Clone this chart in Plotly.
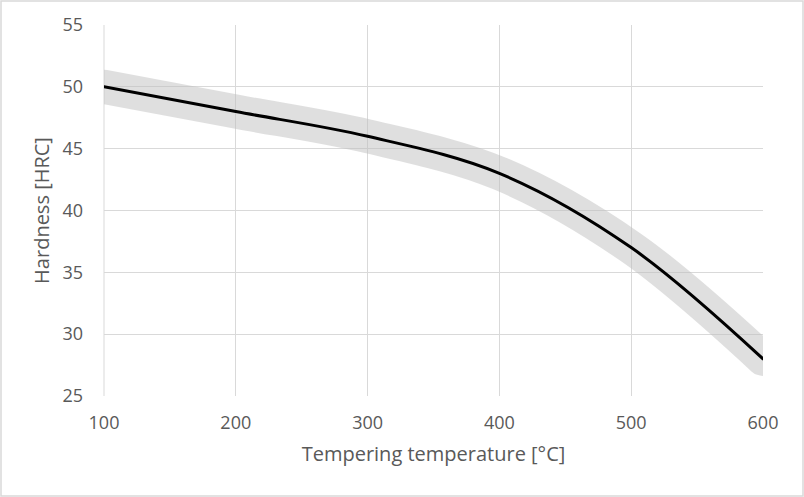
import plotly.graph_objects as go

# tempering curve
temperature = [100, 200, 300, 400, 500, 600]
hardness = [50, 48, 46, 43, 37, 28]

x_ticks = [100, 200, 300, 400, 500, 600]
y_ticks = [25, 30, 35, 40, 45, 50, 55]

W, H = 804, 497
M_L, M_R, M_T, M_B = 104, 41, 25, 101
plot_w = W - M_L - M_R
plot_h = H - M_T - M_B

fig = go.Figure()

# broad grey band behind the curve
fig.add_trace(go.Scatter(
    x=temperature, y=hardness, mode='lines',
    line=dict(color='rgba(192,192,192,0.5)', width=34, shape='spline', smoothing=1),
    hoverinfo='skip', showlegend=False))

# the curve itself
fig.add_trace(go.Scatter(
    x=temperature, y=hardness, mode='lines',
    line=dict(color='black', width=3, shape='spline', smoothing=1),
    showlegend=False))

grid = '#d9d9d9'
tick_font = dict(family='Open Sans, sans-serif', size=18, color='#595959')
title_font = dict(family='Open Sans, sans-serif', size=20, color='#595959')

fig.update_layout(
    width=W, height=H,
    margin=dict(l=M_L, r=M_R, t=M_T, b=M_B),
    paper_bgcolor='white', plot_bgcolor='white',
    xaxis=dict(range=[100, 600], tickvals=x_ticks, showgrid=True, gridcolor=grid, gridwidth=1,
               zeroline=False, showline=False, ticks='', tickfont=tick_font,
               ticklabelstandoff=14,
               title=dict(text='Tempering temperature [°C]', font=title_font, standoff=13)),
    yaxis=dict(range=[25, 55], tickvals=y_ticks, showgrid=True, gridcolor=grid, gridwidth=1,
               zeroline=False, showline=False, ticks='', tickfont=tick_font,
               ticklabelstandoff=20,
               title=dict(text='Hardness [HRC]', font=title_font, standoff=7)),
    shapes=[
        # outer chart border
        dict(type='rect', xref='paper', yref='paper',
             x0=-(M_L - 1) / plot_w, x1=(plot_w + M_R - 1) / plot_w,
             y0=-(M_B - 1) / plot_h, y1=(plot_h + M_T - 1) / plot_h,
             line=dict(color=grid, width=1.5), layer='below'),
        dict(type='line', xref='paper', yref='paper', x0=0, x1=0, y0=0, y1=1,
             line=dict(color=grid, width=1), layer='below'),
    ],
)

# round caps so the band ends flush with the plot edges
js = """
document.body.style.margin='0';
document.querySelectorAll('.scatterlayer .trace path.js-line').forEach(function(p){
    p.style.strokeLinecap='round';
    p.style.strokeLinejoin='round';
});
"""
fig.write_html("out.html", config={'displayModeBar': False}, post_script=js)
